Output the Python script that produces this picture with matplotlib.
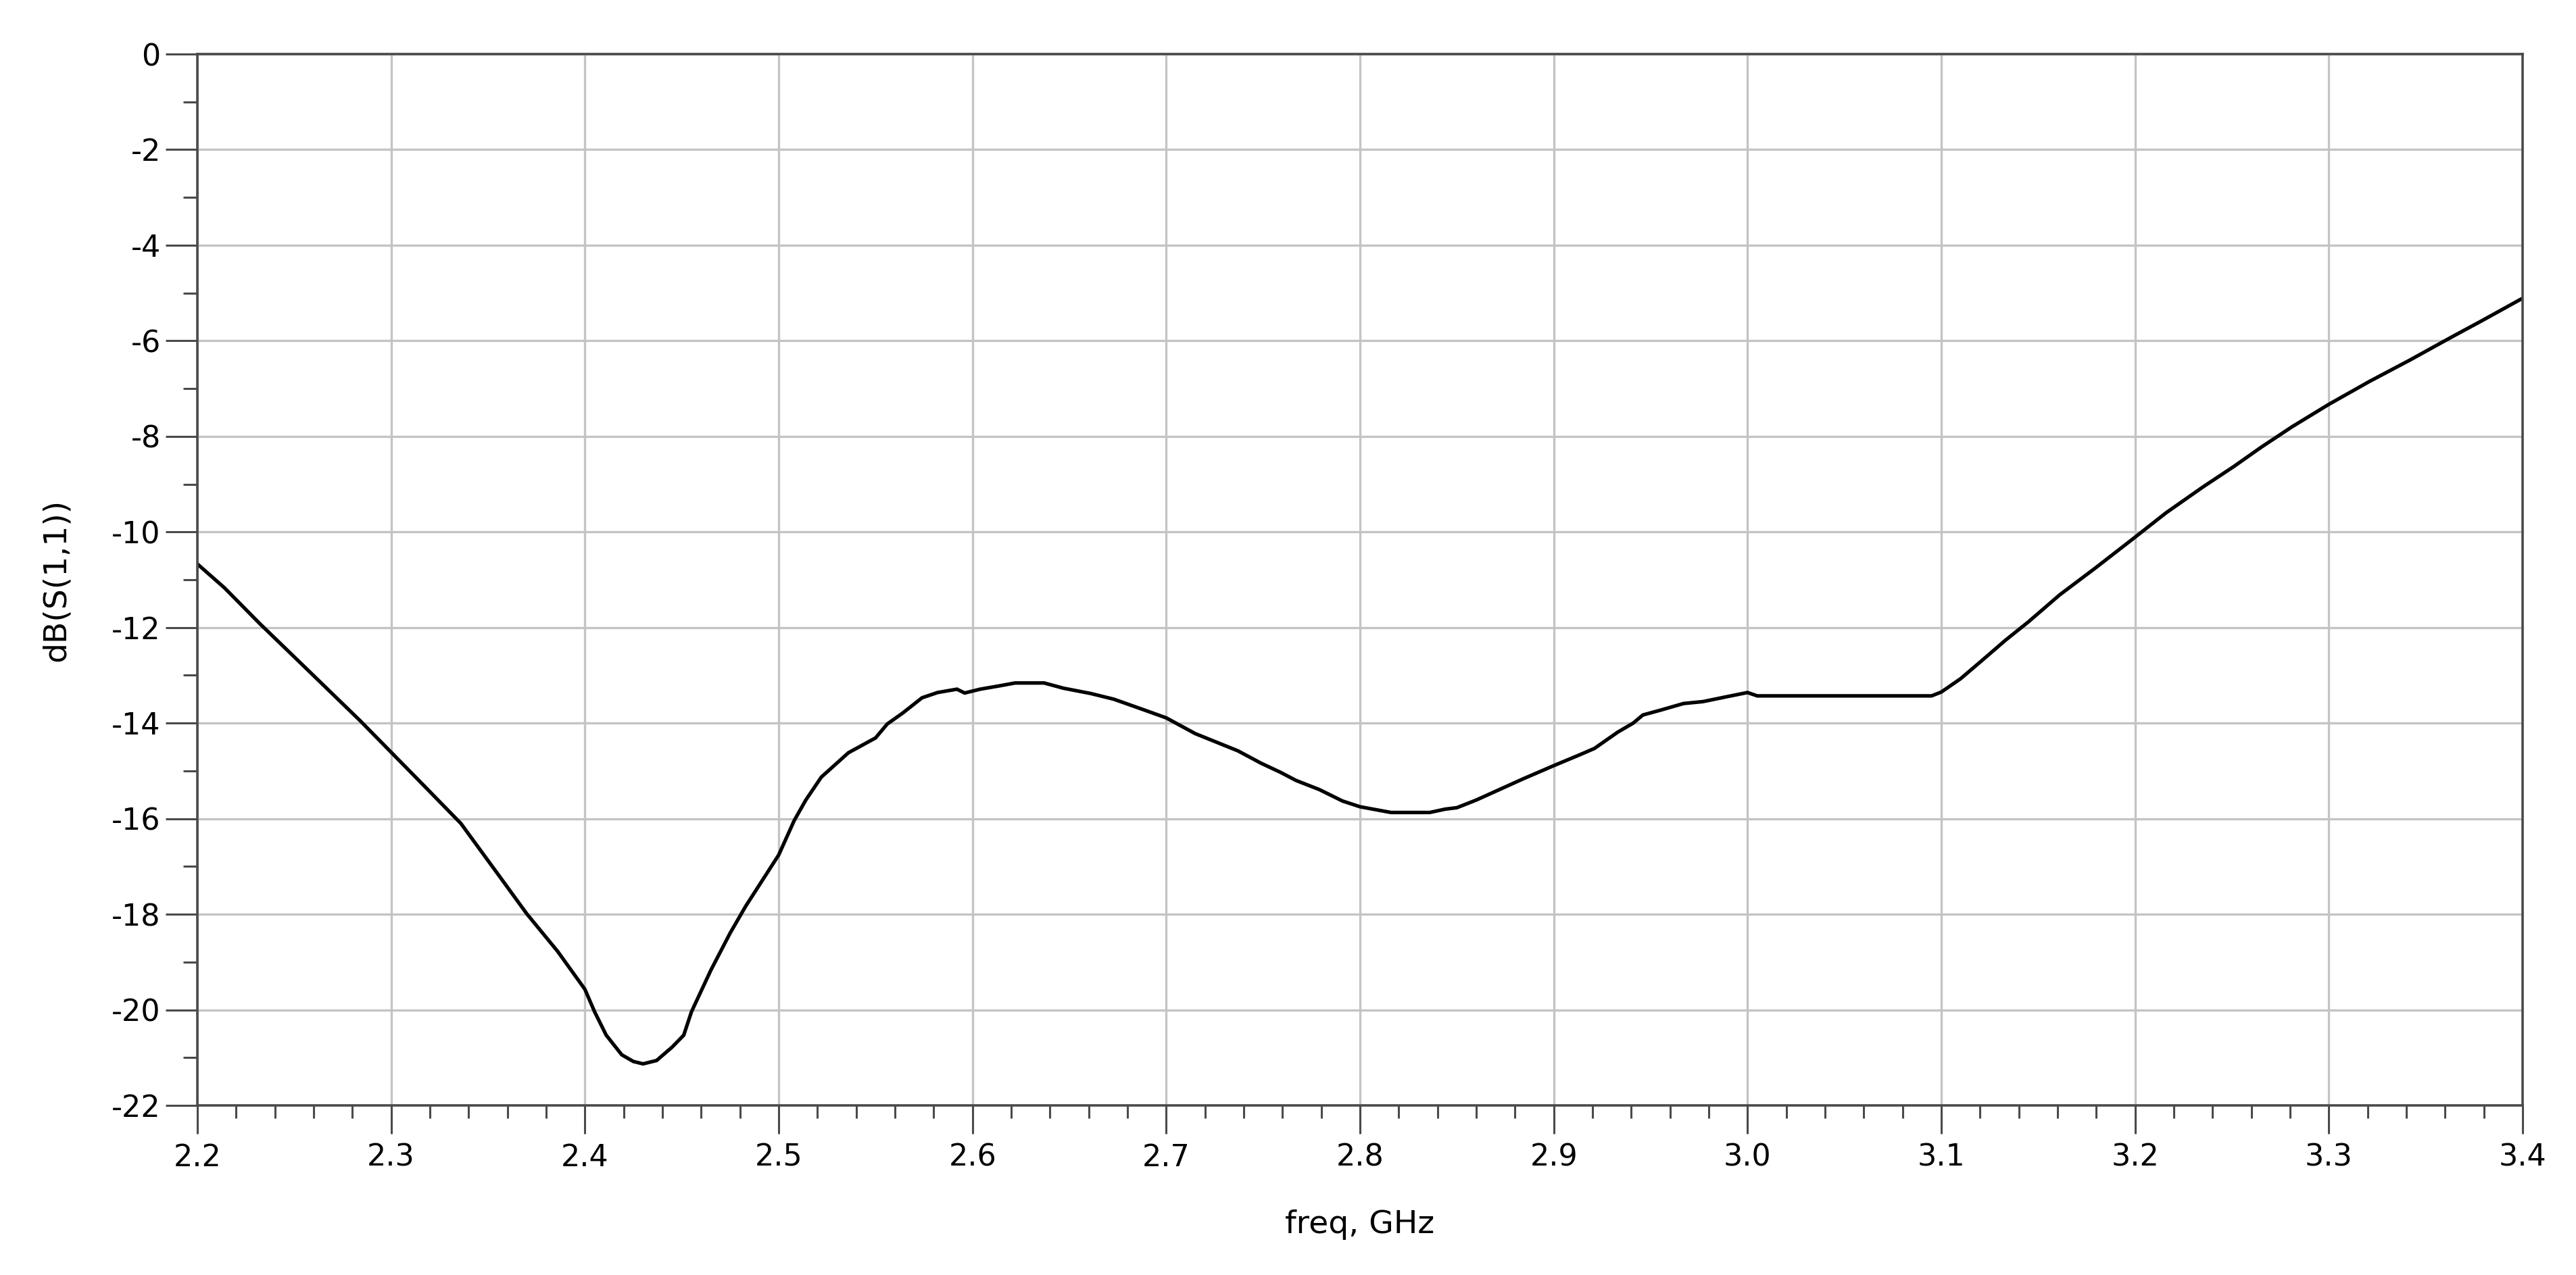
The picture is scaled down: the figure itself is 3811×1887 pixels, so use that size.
import matplotlib
matplotlib.use("Agg")
import matplotlib.pyplot as plt
from matplotlib.ticker import MultipleLocator, FixedLocator

# S11 readings (freq in GHz, magnitude in dB)
freq = [2.200, 2.214, 2.232, 2.256, 2.284, 2.300, 2.316, 2.336, 2.356, 2.370,
        2.386, 2.400, 2.405, 2.411, 2.419, 2.425, 2.430, 2.437, 2.445, 2.451,
        2.455, 2.465, 2.475, 2.483, 2.500, 2.508, 2.514, 2.522, 2.536, 2.550,
        2.556, 2.564, 2.574, 2.582, 2.592, 2.596, 2.604, 2.614, 2.622, 2.637,
        2.647, 2.661, 2.673, 2.689, 2.700, 2.715, 2.737, 2.749, 2.759, 2.767,
        2.779, 2.791, 2.800, 2.808, 2.816, 2.826, 2.836, 2.844, 2.850, 2.860,
        2.872, 2.884, 2.900, 2.913, 2.921, 2.933, 2.941, 2.946, 2.955, 2.967,
        2.977, 2.989, 3.000, 3.005, 3.095, 3.100, 3.110, 3.121, 3.133, 3.145,
        3.161, 3.180, 3.200, 3.216, 3.235, 3.251, 3.265, 3.281, 3.300, 3.321,
        3.342, 3.363, 3.379, 3.400]
s11_db = [-10.67, -11.17, -11.91, -12.85, -13.95, -14.61, -15.27, -16.10, -17.21, -17.99,
          -18.78, -19.57, -20.04, -20.53, -20.94, -21.08, -21.13, -21.06, -20.78, -20.53,
          -20.04, -19.17, -18.39, -17.83, -16.76, -16.04, -15.61, -15.13, -14.62, -14.31,
          -14.02, -13.79, -13.47, -13.36, -13.29, -13.37, -13.29, -13.22, -13.16, -13.16,
          -13.27, -13.38, -13.50, -13.73, -13.89, -14.22, -14.58, -14.84, -15.03, -15.20,
          -15.39, -15.63, -15.75, -15.81, -15.87, -15.87, -15.87, -15.80, -15.77, -15.61,
          -15.39, -15.17, -14.89, -14.67, -14.53, -14.19, -14.00, -13.83, -13.73, -13.59,
          -13.55, -13.45, -13.36, -13.43, -13.43, -13.35, -13.07, -12.69, -12.27, -11.88,
          -11.32, -10.74, -10.11, -9.60, -9.06, -8.63, -8.23, -7.80, -7.33, -6.85,
          -6.40, -5.93, -5.58, -5.11]

x_ticks = [2.2, 2.3, 2.4, 2.5, 2.6, 2.7, 2.8, 2.9, 3.0, 3.1, 3.2, 3.3, 3.4]
x_ticklabels = ["2.2", "2.3", "2.4", "2.5", "2.6", "2.7", "2.8", "2.9", "3.0", "3.1", "3.2", "3.3", "3.4"]
y_ticks = [0, -2, -4, -6, -8, -10, -12, -14, -16, -18, -20, -22]

plt.rcParams['font.family'] = ['DejaVu Sans']
plt.rcParams['axes.unicode_minus'] = False  # ADS draws a plain hyphen

fig = plt.figure(figsize=(19.06, 9.435), dpi=200)
ax = fig.add_axes([0.0766, 0.133, 0.9024, 0.8246])

frame = '#4a4a4a'

ax.plot(freq, s11_db, color='black', linewidth=1.9, solid_joinstyle='miter')

ax.set_xlim(2.2, 3.4)
ax.set_ylim(-22, 0)
ax.xaxis.set_major_locator(FixedLocator(x_ticks))
ax.set_xticklabels(x_ticklabels)
ax.xaxis.set_minor_locator(MultipleLocator(0.02))
ax.yaxis.set_major_locator(FixedLocator(y_ticks))
ax.yaxis.set_minor_locator(MultipleLocator(1))

ax.grid(True, which='major', color='#c4c4c4', linewidth=1.2)
ax.set_axisbelow(True)

for sp in ax.spines.values():
    sp.set_color(frame)
    sp.set_linewidth(1.3)

ax.tick_params(axis='x', which='major', direction='out', length=15, width=1.1,
               color=frame, pad=5, labelsize=16)
ax.tick_params(axis='x', which='minor', direction='out', length=7, width=1.1, color=frame)
ax.tick_params(axis='y', which='major', direction='out', length=17, width=1.1,
               color=frame, pad=2.5, labelsize=16)
ax.tick_params(axis='y', which='minor', direction='out', length=7.5, width=1.1, color=frame)

ax.set_xlabel('freq, GHz', fontsize=17)
ax.xaxis.set_label_coords(0.5, -0.099)
ax.set_ylabel('dB(S(1,1))', fontsize=17)
ax.yaxis.set_label_coords(-0.054, 0.5)

fig.savefig('out.png', dpi=200, facecolor='white')
